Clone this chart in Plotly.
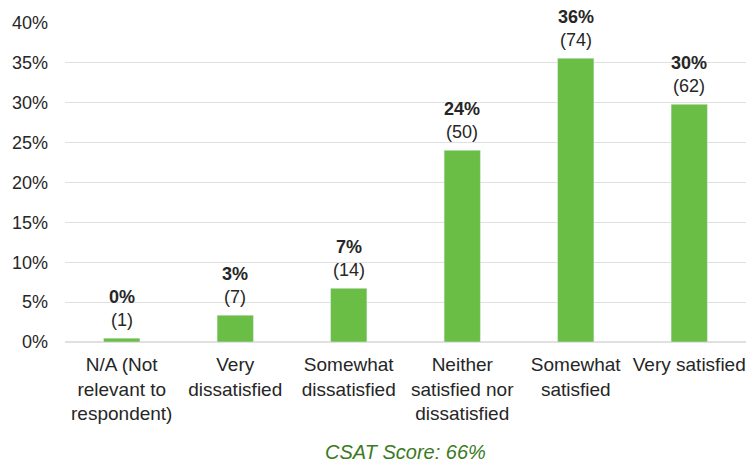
import plotly.graph_objects as go

categories = ["N/A (Not<br>relevant to<br>respondent)", "Very<br>dissatisfied", "Somewhat<br>dissatisfied",
              "Neither<br>satisfied nor<br>dissatisfied", "Somewhat<br>satisfied", "Very satisfied"]
counts = [1, 7, 14, 50, 74, 62]
total = sum(counts)
shares = [c / total for c in counts]
labels = [f"<b>{round(s*100):d}%</b><br>({c})" for s, c in zip(shares, counts)]

FONT = "Liberation Sans, Arial"
fig = go.Figure(go.Bar(x=categories, y=shares, marker_color="#6abd45", hoverinfo="skip"))
for cat, s, lab in zip(categories, shares, labels):
    fig.add_annotation(x=cat, y=s, text=lab, showarrow=False, yanchor="bottom", yshift=6,
                       font=dict(size=18, color="#262626", family=FONT))
fig.update_layout(
    width=754, height=464, margin=dict(l=65, r=8, t=23, b=122),
    plot_bgcolor="white", paper_bgcolor="white",
    bargap=0.68, showlegend=False,
    font=dict(family=FONT, size=18, color="#262626"),
)
fig.update_yaxes(range=[0, 0.40], dtick=0.05, tickformat=".0%", gridcolor="#e0e0e0",
                 zeroline=True, zerolinecolor="#e0e0e0", ticks="", tickfont=dict(size=18),
                 ticklabelstandoff=16)
fig.update_xaxes(tickfont=dict(size=19), ticks="", showline=False, tickangle=0,
                 ticklabelstandoff=9)
fig.add_annotation(text="<i>CSAT Score: 66%</i>", xref="paper", yref="paper", x=0.5, y=0,
                   yshift=-110, showarrow=False, yanchor="middle",
                   font=dict(size=20, color="#3b7a24", family=FONT))
fig.write_html("out.html")
